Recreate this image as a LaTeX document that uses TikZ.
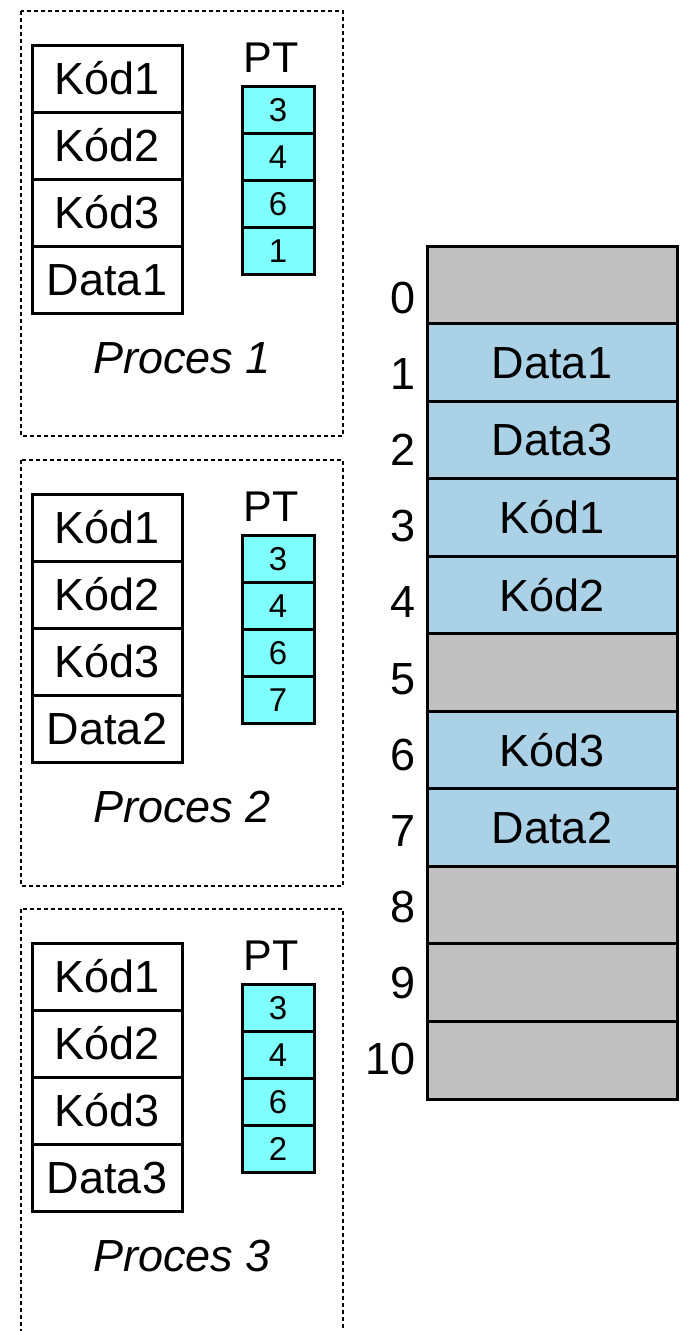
\documentclass[tikz,border=0pt]{standalone}
\usepackage{fontspec}
\setmainfont{Liberation Sans}
\usetikzlibrary{positioning}

\definecolor{ptcyan}{HTML}{80FFFF}
\definecolor{memblue}{HTML}{ABD1E6}
\definecolor{memgray}{HTML}{C0C0C0}

\begin{document}
\begin{tikzpicture}[x=1pt, y=-1pt,
big/.style={font=\fontsize{45}{54}\selectfont, text height=32pt, text depth=0pt},
blank/.style={big, inner sep=0pt},
seg/.style={rectangle, text centered, draw=black, line width=3pt, big, inner sep=0pt,
minimum width=150pt, minimum height=67pt, node distance=67pt},
pte/.style={rectangle, text centered, draw=black, line width=3pt, fill=ptcyan, inner sep=0pt,
font=\fontsize{33}{40}\selectfont, text height=23.5pt, text depth=0pt,
minimum width=72pt, minimum height=47pt, node distance=47pt},
pt-head/.style={font=\fontsize{43}{52}\selectfont, text height=31pt, text depth=0pt, inner sep=0pt,
node distance=52.5pt, xshift=-7pt},
proc-name/.style={font=\fontsize{45}{54}\selectfont\itshape, text height=32pt, text depth=0pt, inner sep=0pt},
mem/.style={rectangle, text centered, draw=black, line width=3pt, big, inner sep=0pt,
minimum width=250pt, minimum height=77.55pt, node distance=77.55pt},
mem-free/.style={mem, fill=memgray},
mem-used/.style={mem, fill=memblue},
idx/.style={blank, anchor=east},
proc-frame/.style={draw=black, line width=1.5pt, dash pattern=on 4pt off 3pt}
]
\useasboundingbox (0,0) rectangle (683,1331);

% process 1
\draw [proc-frame] (21,11) rectangle (343,436);
\node [seg] (p1-k1) at (107,78.5) {Kód1};
\node [seg, below of=p1-k1] (p1-k2) {Kód2};
\node [seg, below of=p1-k2] (p1-k3) {Kód3};
\node [seg, below of=p1-k3] (p1-d) {Data1};
\node [pte] (p1-pt1) at (278,109.5) {3};
\node [pte, below of=p1-pt1] (p1-pt2) {4};
\node [pte, below of=p1-pt2] (p1-pt3) {6};
\node [pte, below of=p1-pt3] (p1-pt4) {1};
\node [pt-head, above of=p1-pt1] (p1-pt) {PT};
\node [proc-name] (p1-name) at (182,357) {Proces 1};

% process 2
\draw [proc-frame] (21,460) rectangle (343,886);
\node [seg] (p2-k1) at (107,527.5) {Kód1};
\node [seg, below of=p2-k1] (p2-k2) {Kód2};
\node [seg, below of=p2-k2] (p2-k3) {Kód3};
\node [seg, below of=p2-k3] (p2-d) {Data2};
\node [pte] (p2-pt1) at (278,558.5) {3};
\node [pte, below of=p2-pt1] (p2-pt2) {4};
\node [pte, below of=p2-pt2] (p2-pt3) {6};
\node [pte, below of=p2-pt3] (p2-pt4) {7};
\node [pt-head, above of=p2-pt1] (p2-pt) {PT};
\node [proc-name] (p2-name) at (182,806) {Proces 2};

% process 3
\draw [proc-frame] (21,909) rectangle (343,1360);
\node [seg] (p3-k1) at (107,976.5) {Kód1};
\node [seg, below of=p3-k1] (p3-k2) {Kód2};
\node [seg, below of=p3-k2] (p3-k3) {Kód3};
\node [seg, below of=p3-k3] (p3-d) {Data3};
\node [pte] (p3-pt1) at (278,1007.5) {3};
\node [pte, below of=p3-pt1] (p3-pt2) {4};
\node [pte, below of=p3-pt2] (p3-pt3) {6};
\node [pte, below of=p3-pt3] (p3-pt4) {2};
\node [pt-head, above of=p3-pt1] (p3-pt) {PT};
\node [proc-name] (p3-name) at (182,1255) {Proces 3};

% physical memory
\node [mem-free] (m0) at (552,284.8) {};
\node [mem-used, below of=m0] (m1) {Data1};
\node [mem-used, below of=m1] (m2) {Data3};
\node [mem-used, below of=m2] (m3) {Kód1};
\node [mem-used, below of=m3] (m4) {Kód2};
\node [mem-free, below of=m4] (m5) {};
\node [mem-used, below of=m5] (m6) {Kód3};
\node [mem-used, below of=m6] (m7) {Data2};
\node [mem-free, below of=m7] (m8) {};
\node [mem-free, below of=m8] (m9) {};
\node [mem-free, below of=m9] (m10) {};

\node [idx] (i0) at (416,297) {0};
\node [idx] (i1) at (416,373) {1};
\node [idx] (i2) at (416,449) {2};
\node [idx] (i3) at (416,525) {3};
\node [idx] (i4) at (416,601) {4};
\node [idx] (i5) at (416,678) {5};
\node [idx] (i6) at (416,754) {6};
\node [idx] (i7) at (416,830) {7};
\node [idx] (i8) at (416,906) {8};
\node [idx] (i9) at (416,982) {9};
\node [idx] (i10) at (416,1058) {10};

\end{tikzpicture}
\end{document}
